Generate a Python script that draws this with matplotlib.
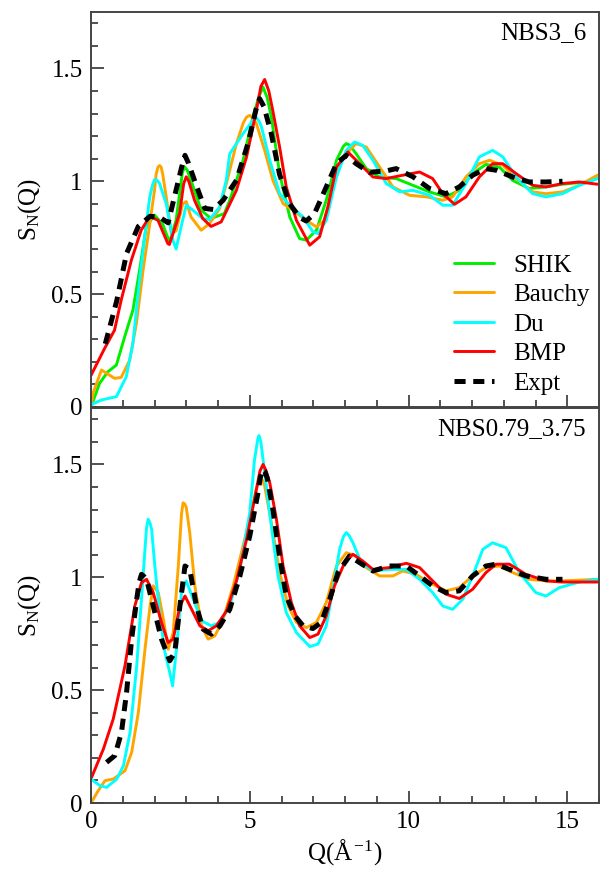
import matplotlib
matplotlib.use("Agg")
import matplotlib.pyplot as plt
from matplotlib.ticker import MultipleLocator, FuncFormatter

plt.rcParams['font.family'] = ['Liberation Serif', 'DejaVu Serif']
plt.rcParams['mathtext.fontset'] = 'custom'
plt.rcParams['mathtext.rm'] = 'Liberation Serif'
plt.rcParams['mathtext.it'] = 'Liberation Serif'
plt.rcParams['lines.scale_dashes'] = False

# ---------------- Top panel: NBS3_6 ----------------
top_shik_q = [0.0, 0.27, 0.53, 0.80, 1.06, 1.32, 1.53, 1.74, 2.0, 2.26, 2.47, 2.68, 2.88, 2.95, 3.03, 3.15, 3.47, 3.78, 4.2,
              4.37, 4.79, 5.1, 5.3, 5.42, 5.55, 5.68, 5.94, 6.26, 6.57, 6.78, 7.1, 7.41, 7.73, 7.95, 8.04, 8.15, 8.35, 8.67, 9.09,
              9.61, 10.14, 10.66, 11.18, 11.6, 12.02, 12.44, 12.86, 13.28, 13.8, 14.33, 14.85, 15.59, 15.95]
top_shik_s = [0.0, 0.105, 0.156, 0.186, 0.311, 0.429, 0.606, 0.80, 0.85, 0.81, 0.73, 0.827, 1.04, 1.063, 1.05, 1.004, 0.872, 0.835, 0.857,
              0.916, 1.093, 1.285, 1.38, 1.417, 1.37, 1.285, 1.034, 0.842, 0.746, 0.739, 0.783, 0.916, 1.093, 1.155, 1.167, 1.16, 1.122, 1.056, 1.019,
              1.012, 0.982, 0.953, 0.931, 0.96, 1.034, 1.075, 1.063, 1.004, 0.968, 0.975, 0.987, 0.997, 1.012]

top_bauchy_q = [0.0, 0.06, 0.33, 0.74, 0.95, 1.22, 1.43, 1.64, 1.85, 2.0, 2.05, 2.11, 2.16, 2.21, 2.26, 2.37, 2.53, 2.68, 2.89, 3.0, 3.15,
                3.47, 3.73, 4.05, 4.3, 4.58, 4.8, 4.9, 5.0, 5.1, 5.21, 5.47, 5.73, 6.05, 6.36, 6.78, 7.1, 7.36, 7.62, 7.94, 8.35,
                8.67, 9.09, 9.51, 10.03, 10.56, 11.08, 11.39, 11.81, 12.23, 12.55, 12.97, 13.39, 13.91, 14.33, 14.85,
                15.38, 15.95]
top_bauchy_s = [0.0, 0.06, 0.164, 0.127, 0.131, 0.208, 0.37, 0.606, 0.81, 0.96, 1.03, 1.063, 1.07, 1.063, 1.03, 0.93, 0.768, 0.78, 0.90, 0.91, 0.842,
                0.783, 0.812, 0.879, 1.01, 1.167, 1.26, 1.285, 1.292, 1.28, 1.255, 1.137, 1.004, 0.901, 0.872, 0.827, 0.798, 0.827, 0.975, 1.108, 1.167,
                1.152, 1.063, 0.975, 0.938, 0.931, 0.916, 0.931, 1.019, 1.078, 1.093, 1.071, 1.012, 0.953, 0.945, 0.953,
                0.982, 1.027]

top_du_q = [0.0, 0.33, 0.80, 1.11, 1.32, 1.53, 1.69, 1.85, 1.93, 2.0, 2.08, 2.16, 2.37, 2.58, 2.68, 2.84, 3.0, 3.21, 3.52, 3.73, 4.05,
            4.26, 4.37, 4.79, 5.1, 5.21, 5.3, 5.37, 5.63, 5.94, 6.26, 6.68, 6.99, 7.15, 7.41, 7.73, 8.04, 8.3, 8.56, 8.88, 9.30,
            9.72, 10.14, 10.66, 11.08, 11.39, 11.81, 12.23, 12.65, 12.97, 13.39, 13.91, 14.33, 14.85, 15.38, 15.95]
top_du_s = [0.01, 0.031, 0.046, 0.134, 0.282, 0.562, 0.754, 0.93, 0.98, 1.007, 1.005, 0.99, 0.90, 0.739, 0.70, 0.80, 0.894, 0.872, 0.835, 0.83, 0.886,
            1.004, 1.122, 1.211, 1.27, 1.282, 1.265, 1.24, 1.093, 0.945, 0.894, 0.842, 0.776, 0.768, 0.827, 1.019, 1.137, 1.174, 1.159, 1.093, 0.99,
            0.953, 0.96, 0.938, 0.894, 0.894, 0.99, 1.108, 1.137, 1.108, 1.019, 0.945, 0.931, 0.945, 0.982, 1.012]

top_bmp_q = [0.0, 0.43, 0.74, 0.95, 1.27, 1.58, 1.85, 2.11, 2.42, 2.47, 2.79, 2.92, 3.0, 3.08, 3.26, 3.52, 3.78, 4.10, 4.58, 4.9, 5.21,
             5.35, 5.47, 5.6, 5.73, 5.94, 6.15, 6.47, 6.89, 7.2, 7.46, 7.73, 8.09, 8.46, 8.88, 9.30, 9.82, 10.35, 10.76, 11.08, 11.45,
             11.81, 12.23, 12.65, 12.97, 13.39, 13.91, 14.33, 14.85, 15.38, 15.95]
top_bmp_s = [0.14, 0.26, 0.34, 0.473, 0.65, 0.783, 0.845, 0.827, 0.724, 0.72, 0.857, 0.99, 1.02, 1.0, 0.916, 0.835, 0.80, 0.82, 0.96, 1.108, 1.314,
             1.42, 1.451, 1.40, 1.31, 1.152, 0.975, 0.827, 0.717, 0.754, 0.886, 1.063, 1.13, 1.078, 1.019, 1.012, 1.027, 1.041, 1.012, 0.945, 0.898,
             0.931, 1.019, 1.078, 1.078, 1.034, 0.982, 0.975, 0.99, 0.997, 0.987]

top_expt_q = [0.45, 0.81, 1.12, 1.49, 1.86, 2.17, 2.43, 2.85, 2.96, 3.07, 3.27, 3.58, 3.85, 4.16, 4.58, 4.95, 5.2, 5.31, 5.45, 5.68, 5.94, 6.26,
              6.57, 6.78, 7.04, 7.41, 7.73, 8.04, 8.35, 8.77, 9.30, 9.61, 10.14, 10.66, 11.18, 11.6, 12.02, 12.44, 12.76,
              13.28, 13.8, 14.33, 14.85]
top_expt_s = [0.28, 0.47, 0.68, 0.80, 0.845, 0.84, 0.816, 1.06, 1.115, 1.08, 1.00, 0.88, 0.875, 0.916, 1.004, 1.17, 1.32, 1.366, 1.33, 1.21, 1.03, 0.90,
              0.84, 0.824, 0.857, 0.975, 1.078, 1.115, 1.078, 1.04, 1.046, 1.056, 1.02, 0.968, 0.945, 0.975, 1.027, 1.056, 1.049,
              1.019, 0.997, 0.997, 1.0]

# ---------------- Bottom panel: NBS0.79_3.75 ----------------
bot_bauchy_q = [0.0, 0.23, 0.44, 0.70, 1.07, 1.28, 1.49, 1.70, 1.86, 1.96, 2.12, 2.28, 2.43, 2.59, 2.75, 2.85, 2.90, 2.95, 3.0, 3.05, 3.11,
                3.27, 3.48, 3.69, 3.90, 4.16, 4.48, 4.79, 5.1, 5.2, 5.31, 5.4, 5.47, 5.68, 5.94, 6.21, 6.47, 6.78, 7.10, 7.41, 7.73,
                8.04, 8.35, 8.67, 9.09, 9.51, 9.82, 10.24, 10.66, 11.18, 11.6, 12.02, 12.44, 12.86, 13.28, 13.80, 14.33,
                14.85, 15.95]
bot_bauchy_s = [0.0, 0.055, 0.099, 0.106, 0.143, 0.224, 0.40, 0.681, 0.873, 0.962, 0.932, 0.814, 0.681, 0.755, 1.05, 1.28, 1.33, 1.325, 1.31, 1.26, 1.198,
                0.962, 0.785, 0.726, 0.74, 0.814, 0.962, 1.139, 1.316, 1.39, 1.441, 1.43, 1.404, 1.242, 1.021, 0.873, 0.80, 0.777, 0.80, 0.888, 1.05,
                1.109, 1.094, 1.043, 1.006, 1.006, 1.028, 1.013, 0.976, 0.94, 0.954, 1.006, 1.043, 1.05, 1.021, 0.991, 0.984,
                0.984, 0.991]

bot_du_q = [0.0, 0.28, 0.49, 0.81, 1.02, 1.23, 1.44, 1.59, 1.70, 1.75, 1.80, 1.86, 1.91, 2.01, 2.17, 2.33, 2.48, 2.57, 2.69, 2.85, 3.0,
            3.22, 3.48, 3.79, 4.06, 4.37, 4.69, 5.0, 5.15, 5.25, 5.29, 5.35, 5.42, 5.47, 5.68, 5.89, 6.15, 6.47, 6.89, 7.15, 7.41, 7.62, 7.83,
            7.95, 8.04, 8.13, 8.25, 8.51, 8.88, 9.40, 9.93, 10.35, 10.76, 11.08, 11.39, 11.71, 12.02, 12.34, 12.65, 13.07, 13.49, 14.01,
            14.33, 14.75, 15.38, 15.95]
bot_du_s = [0.106, 0.077, 0.069, 0.106, 0.165, 0.313, 0.608, 0.903, 1.124, 1.22, 1.257, 1.24, 1.212, 1.05, 0.829, 0.667, 0.578, 0.519, 0.681, 0.932, 0.984,
            0.903, 0.807, 0.785, 0.80, 0.873, 1.035, 1.286, 1.52, 1.61, 1.628, 1.60, 1.52, 1.463, 1.227, 1.006, 0.844, 0.755, 0.693, 0.704, 0.785, 0.947, 1.124,
            1.18, 1.198, 1.185, 1.153, 1.065, 1.028, 1.035, 1.035, 0.991, 0.932, 0.873, 0.858, 0.903, 1.006, 1.124, 1.153, 1.131, 1.021, 0.932,
            0.917, 0.954, 0.979, 0.991]

bot_bmp_q = [0.02, 0.39, 0.70, 1.07, 1.38, 1.59, 1.75, 1.96, 2.22, 2.43, 2.59, 2.80, 2.96, 3.17, 3.43, 3.69, 3.95, 4.27,
             4.58, 4.9, 5.21, 5.32, 5.42, 5.52, 5.63, 5.84, 6.05, 6.31, 6.57, 6.89, 7.15, 7.41, 7.67, 7.99, 8.25, 8.56, 8.88, 9.40,
             9.93, 10.35, 10.76, 11.18, 11.6, 12.02, 12.44, 12.76, 13.18, 13.70, 14.33, 14.85, 15.95]
bot_bmp_s = [0.114, 0.239, 0.372, 0.608, 0.873, 0.976, 0.991, 0.932, 0.80, 0.711, 0.726, 0.873, 0.917, 0.858, 0.785, 0.763, 0.785, 0.851,
             0.984, 1.168, 1.389, 1.47, 1.50, 1.47, 1.419, 1.257, 1.05, 0.888, 0.785, 0.733, 0.748, 0.829, 0.962, 1.065, 1.102, 1.072, 1.035, 1.043,
             1.062, 1.043, 0.984, 0.925, 0.906, 0.947, 1.021, 1.058, 1.058, 1.013, 0.984, 0.979, 0.979]

bot_expt_q = [0.49, 0.75, 0.96, 1.12, 1.28, 1.44, 1.52, 1.59, 1.66, 1.75, 1.96, 2.22, 2.48, 2.64, 2.80, 2.96, 3.11, 3.32, 3.53, 3.79,
              4.06, 4.37, 4.69, 5.0, 5.26, 5.33, 5.40, 5.47, 5.55, 5.73, 5.94, 6.15, 6.42, 6.68, 6.99, 7.25, 7.52, 7.78, 8.14, 8.46,
              8.88, 9.40, 9.93, 10.35, 10.76, 11.18, 11.6, 12.02, 12.44, 12.76, 13.18, 13.70, 14.33, 14.85]
bot_expt_s = [0.18, 0.21, 0.313, 0.49, 0.726, 0.903, 0.98, 1.013, 1.005, 0.991, 0.873, 0.726, 0.63, 0.667, 0.873, 1.05, 1.035, 0.873, 0.77, 0.748,
              0.785, 0.858, 1.006, 1.183, 1.375, 1.44, 1.478, 1.47, 1.44, 1.30, 1.094, 0.917, 0.829, 0.785, 0.773, 0.80, 0.903, 1.021, 1.094, 1.065,
              1.028, 1.05, 1.05, 1.006, 0.962, 0.932, 0.94, 1.006, 1.05, 1.058, 1.035, 1.006, 0.991, 0.991]

labels = ["SHIK", "Bauchy", "Du", "BMP", "Expt"]
colors = {"SHIK": "#00ee00", "Bauchy": "#ffa500", "Du": "#00ffff", "BMP": "#ff0000", "Expt": "#000000"}
panel_titles = ["NBS3_6", "NBS0.79_3.75"]

fig = plt.figure(figsize=(6.0, 8.75), dpi=100)
ax1 = fig.add_axes([91/600, 1-407/875, 508/600, 395/875])
ax2 = fig.add_axes([91/600, 1-803/875, 508/600, 395/875])

lw = 2.1
def draw_model(ax, q, s, name):
    ax.plot(q, s, color=colors[name], lw=lw, label=name, solid_capstyle='round', solid_joinstyle='round')

def draw_expt(ax, q, s):
    ax.plot(q, s, color='black', lw=3.6, linestyle=(0, (8, 5.5)), label="Expt", dash_capstyle='butt',
            dash_joinstyle='round')

draw_model(ax1, top_shik_q, top_shik_s, "SHIK")
draw_model(ax1, top_bauchy_q, top_bauchy_s, "Bauchy")
draw_model(ax1, top_du_q, top_du_s, "Du")
draw_model(ax1, top_bmp_q, top_bmp_s, "BMP")
draw_expt(ax1, top_expt_q, top_expt_s)

draw_model(ax2, bot_bauchy_q, bot_bauchy_s, "Bauchy")
draw_model(ax2, bot_du_q, bot_du_s, "Du")
draw_model(ax2, bot_bmp_q, bot_bmp_s, "BMP")
draw_expt(ax2, bot_expt_q, bot_expt_s)

fmt = FuncFormatter(lambda v, p: ("%g" % v))
for ax, title in zip([ax1, ax2], panel_titles):
    ax.set_xlim(0, 16)
    ax.set_ylim(0, 1.75)
    ax.xaxis.set_major_locator(MultipleLocator(5))
    ax.xaxis.set_minor_locator(MultipleLocator(1))
    ax.yaxis.set_major_locator(MultipleLocator(0.5))
    ax.yaxis.set_minor_locator(MultipleLocator(0.1))
    ax.yaxis.set_major_formatter(fmt)
    ax.xaxis.set_major_formatter(fmt)
    ax.tick_params(which='both', direction='in', top=False, right=False, width=1.2, colors='#333333',
                   labelcolor='black', labelsize=18)
    ax.tick_params(which='major', length=9, pad=6)
    ax.tick_params(which='minor', length=5)
    for sp in ax.spines.values():
        sp.set_linewidth(1.4)
        sp.set_color('#444444')
    ax.set_ylabel(r"S$_{\mathrm{N}}$(Q)", fontsize=18, labelpad=6)
    ax.text(0.975, 0.975, title, transform=ax.transAxes, ha='right', va='top', fontsize=18)

ax1.tick_params(labelbottom=False)
ax2.set_xlabel(r"Q($\mathrm{\AA}^{\,\mathrm{-1}}$)", fontsize=18, labelpad=3)

handles, labs = ax1.get_legend_handles_labels()
leg = ax1.legend(handles, labs, loc='upper left', bbox_to_anchor=(0.715, 0.387), frameon=False,
                 fontsize=18, handlelength=1.6, handletextpad=0.75, labelspacing=0.28,
                 borderpad=0, borderaxespad=0)

fig.savefig("out.png", dpi=100)
